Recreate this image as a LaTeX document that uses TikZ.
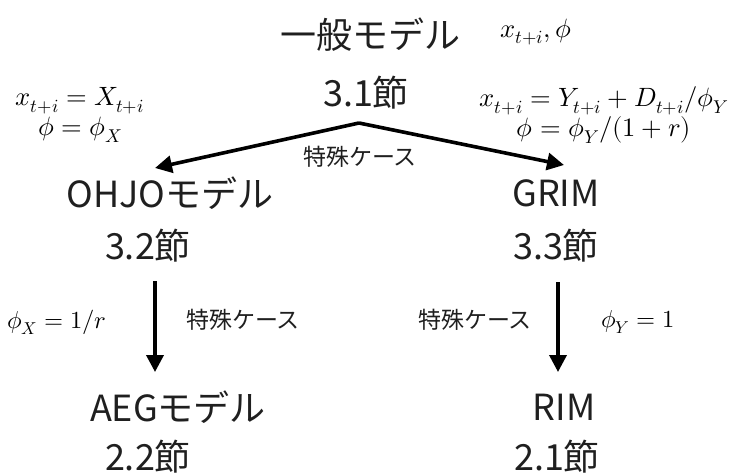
\documentclass[tikz,border=0pt]{standalone}
\usepackage{unicode-math}
\setmainfont{Noto Sans CJK JP}
\setmathfont{Latin Modern Math}
\usetikzlibrary{arrows.meta}
\begin{document}
\begin{tikzpicture}[x=1pt,y=-1pt,
  big/.style={font=\fontsize{36}{40}\selectfont, inner sep=0, text=black!88},
  lab/.style={font=\fontsize{23}{26}\selectfont, inner sep=0, text=black!88},
  mth/.style={font=\fontsize{26.5}{30}\selectfont, inner sep=0},
  arr/.style={line width=3.6pt, -{Triangle[length=17pt,width=17pt]}}]
\useasboundingbox (0,0) rectangle (735,475);
% main nodes
\node[big] (gen) at (370,35) {一般モデル};
\node[big] (s31) at (366,93) {3.1節};
\node[big] (ohjo) at (170,193) {OHJOモデル};
\node[big] (s32) at (148,246) {3.2節};
\node[big] (grim) at (556,193) {GRIM};
\node[big] (s33) at (556,246) {3.3節};
\node[big] (aeg) at (178,407) {AEGモデル};
\node[big] (s22) at (148,457) {2.2節};
\node[big] (rim) at (564,407) {RIM};
\node[big] (s21) at (557,457) {2.1節};
% math labels
\node[mth] (m0) at (536,32) {$x_{t+i},\phi$};
\node[mth, align=center] (ml) at (80,115) {$x_{t+i}=X_{t+i}$\\$\phi=\phi_X$};
\node[mth, align=center] (mr) at (604,115) {$x_{t+i}=Y_{t+i}+D_{t+i}/\phi_Y$\\$\phi=\phi_Y/(1+r)$};
\node[mth, anchor=west, font=\fontsize{24.5}{28}\selectfont] (mx) at (7,322) {$\phi_X=1/r$};
\node[mth, anchor=west, font=\fontsize{24.5}{28}\selectfont] (my) at (601,322) {$\phi_Y=1$};
% special-case labels
\node[lab] (c0) at (360,157) {特殊ケース};
\node[lab] (c1) at (243,320) {特殊ケース};
\node[lab] (c2) at (475,320) {特殊ケース};
% connectors
\coordinate (apex) at (359,123);
\coordinate (ltip) at (155,168);
\coordinate (rtip) at (564,165);
\coordinate (l1) at (155,281);
\coordinate (l2) at (155,372);
\coordinate (r1) at (558,282);
\coordinate (r2) at (558,372);
\draw[arr] (apex) -- (ltip);
\draw[arr] (apex) -- (rtip);
\draw[arr] (l1) -- (l2);
\draw[arr] (r1) -- (r2);
\end{tikzpicture}
\end{document}
